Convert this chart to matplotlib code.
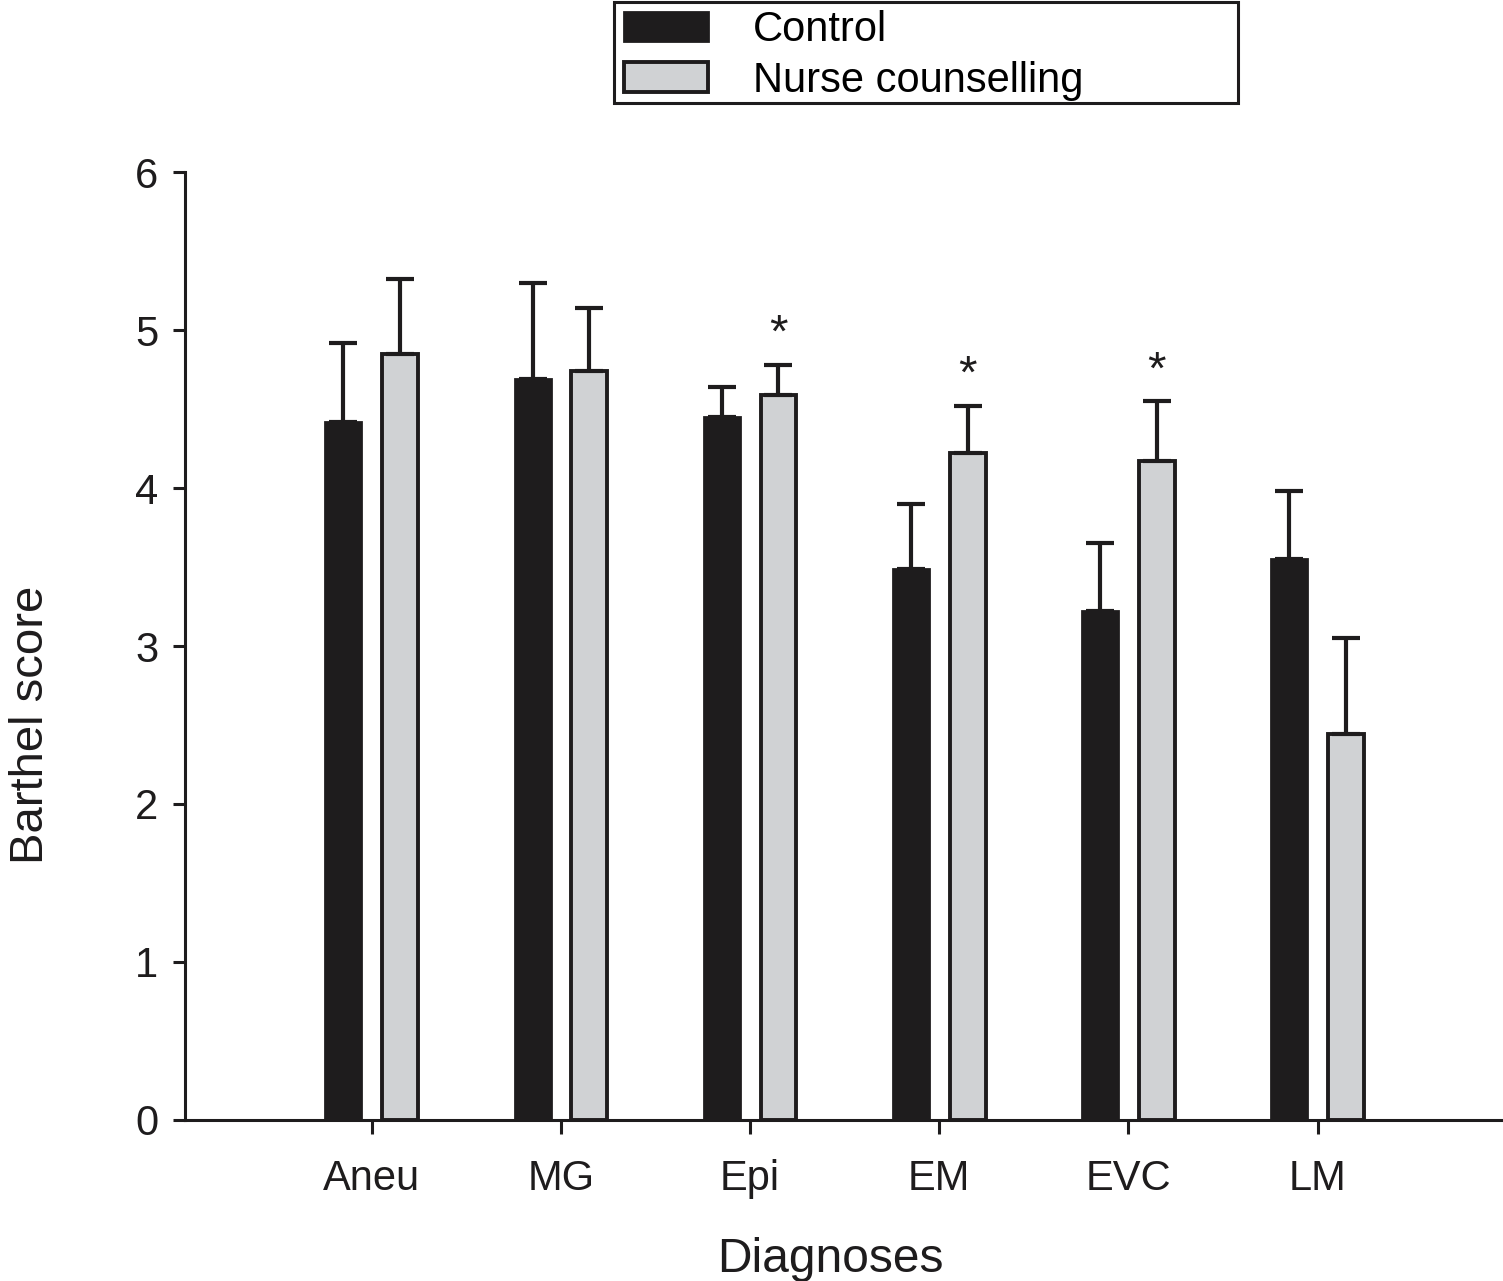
import matplotlib.pyplot as plt
import matplotlib.patches as mpatches
import numpy as np

plt.rcParams['font.family'] = ['Liberation Sans', 'DejaVu Sans']

diagnoses = ['Aneu', 'MG', 'Epi', 'EM', 'EVC', 'LM']
control = [4.42, 4.69, 4.45, 3.49, 3.22, 3.55]
control_err = [0.50, 0.61, 0.19, 0.41, 0.43, 0.43]
nurse = [4.85, 4.74, 4.59, 4.22, 4.17, 2.44]
nurse_err = [0.47, 0.40, 0.19, 0.30, 0.38, 0.61]
significant = [False, False, True, True, True, False]

dark = '#1e1c1d'
light = '#d0d2d4'

fig = plt.figure(figsize=(15.03, 12.81), dpi=100)
ax = fig.add_axes([0.123, 0.1257, 0.877, 0.74])

x = np.arange(len(diagnoses))
w = 0.19
off = 0.15

ax.bar(x - off, control, w, color=dark, edgecolor=dark, linewidth=2)
ax.bar(x + off, nurse, w, color=light, edgecolor=dark, linewidth=2.8)
ax.errorbar(x - off, control, yerr=[np.zeros(len(x)), control_err], fmt='none',
            ecolor=dark, elinewidth=3, capsize=10, capthick=3)
ax.errorbar(x + off, nurse, yerr=[np.zeros(len(x)), nurse_err], fmt='none',
            ecolor=dark, elinewidth=3, capsize=10, capthick=3)

# significance stars
for i, sig in enumerate(significant):
    if sig:
        ax.text(x[i] + off, nurse[i] + nurse_err[i] + 0.05, '*', ha='center',
                va='bottom', fontsize=34, color=dark)

ax.set_xlim(-0.988, 5.98)
ax.set_ylim(0, 6)
ax.set_yticks(range(7))
ax.set_xticks(x)
ax.set_xticklabels(diagnoses)

for s in ['top', 'right']:
    ax.spines[s].set_visible(False)
for s in ['left', 'bottom']:
    ax.spines[s].set_linewidth(2.2)
    ax.spines[s].set_color(dark)
ax.tick_params(axis='both', direction='out', width=2.2, color=dark,
               labelsize=30, labelcolor=dark)
ax.tick_params(axis='y', length=9, pad=10)
ax.tick_params(axis='x', length=10, pad=18)

ax.set_ylabel('Barthel score', fontsize=34, color=dark)
ax.yaxis.set_label_coords(-0.100, 0.417)
ax.set_xlabel('Diagnoses', fontsize=34.5, color=dark)
ax.xaxis.set_label_coords(0.49, -0.123)

# legend box at the top
handles = [mpatches.Patch(facecolor=dark, edgecolor=dark, linewidth=2),
           mpatches.Patch(facecolor=light, edgecolor=dark, linewidth=2.8)]
fig.legend(handles, ['Control', 'Nurse counselling'], loc='upper left',
           bbox_to_anchor=(620 / 1503, 1 - 6 / 1281), frameon=False, fontsize=30,
           handlelength=2.0, handleheight=0.72, handletextpad=1.1,
           labelspacing=0.25, borderaxespad=0, borderpad=0.1)
fig.patches.append(mpatches.Rectangle((614 / 1503, 1 - 103 / 1281),
                                      624 / 1503, 101 / 1281,
                                      transform=fig.transFigure, fill=False,
                                      edgecolor=dark, linewidth=2.2))

fig.savefig('out.png', dpi=100)
